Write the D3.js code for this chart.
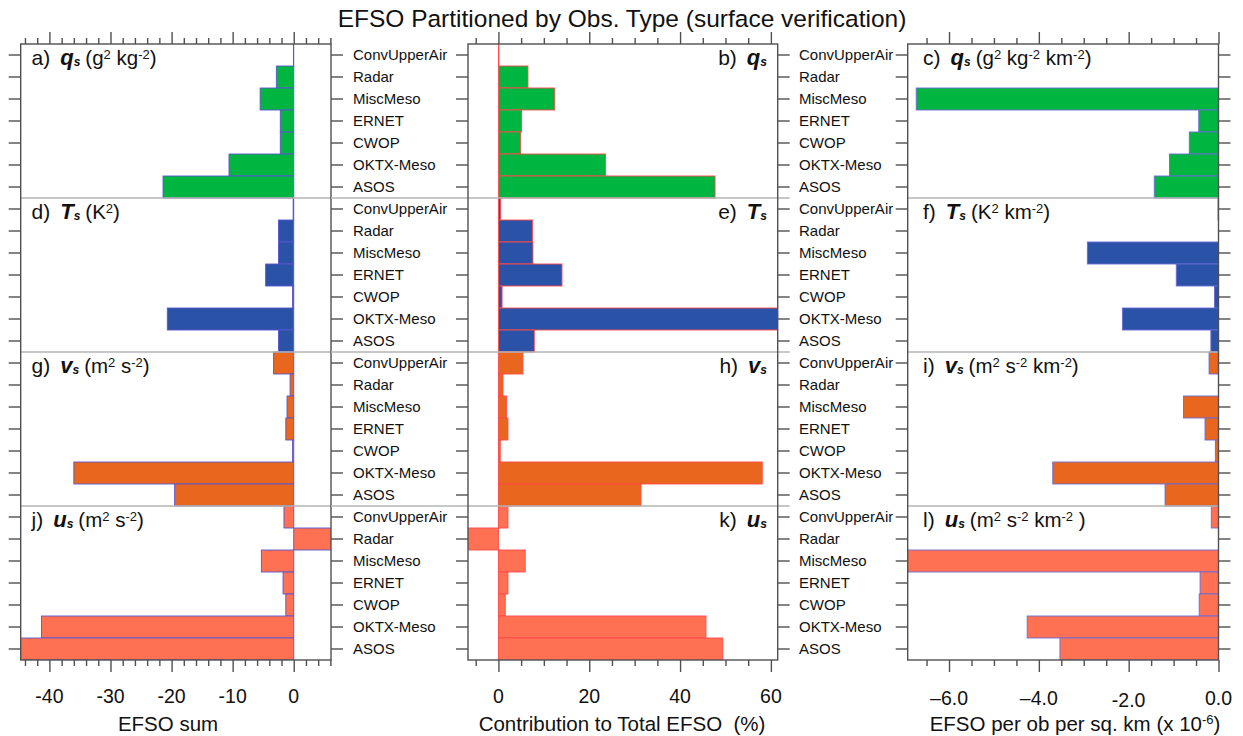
<!DOCTYPE html>
<html>
<head>
<meta charset="utf-8">
<script src="https://cdn.jsdelivr.net/npm/d3@7"></script>
<style>
  html, body { margin: 0; padding: 0; background: #fff; }
  svg { display: block; font-family: "Liberation Sans", Arial, Helvetica, sans-serif; }
  text { white-space: pre; }
</style>
</head>
<body>
<svg id="chart" width="1243" height="736"></svg>
<script>
// Observation types, top to bottom within each variable block
const categories = ["ConvUpperAir", "Radar", "MiscMeso", "ERNET", "CWOP", "OKTX-Meso", "ASOS"];

// EFSO sum by observation type
const sumQ = [-0.05, -2.85, -5.5, -2.2, -2.2, -10.6, -21.4];
const sumT = [-0.1, -2.5, -2.5, -4.6, -0.2, -20.7, -2.5];
const sumV = [-3.3, -0.6, -1.1, -1.3, -0.2, -36.0, -19.5];
const sumU = [-1.6, 6.3, -5.3, -1.75, -1.3, -41.3, -45.5];

// Contribution to total EFSO (%)
const pctQ = [0.1, 6.5, 12.4, 5.1, 4.9, 23.6, 47.7];
const pctT = [0.5, 7.5, 7.6, 14.0, 0.8, 61.7, 7.9];
const pctV = [5.4, 1.0, 1.8, 2.1, 0.4, 58.1, 31.4];
const pctU = [2.1, -6.8, 5.9, 2.1, 1.5, 45.7, 49.4];

// EFSO per observation per sq. km (x 1e-6)
const perObQ = [0, 0, -6.73, -0.44, -0.65, -1.09, -1.43];
const perObT = [-0.01, 0, -2.92, -0.94, -0.09, -2.14, -0.17];
const perObV = [-0.21, 0, -0.78, -0.30, -0.07, -3.69, -1.19];
const perObU = [-0.16, 0, -7.1, -0.41, -0.43, -4.26, -3.53];

// Tick values and labels of the three x axes
const sumTicks = [-40, -30, -20, -10, 0];
const sumTickLabels = ["-40", "-30", "-20", "-10", "0"];
const pctTicks = [0, 20, 40, 60];
const pctTickLabels = ["0", "20", "40", "60"];
const perObTicks = [-6, -4, -2, 0];
const perObTickLabels = ["\u20136.0", "\u20134.0", "-2.0", "0.0"];

// Variable blocks (rows of panels)
const varColors = ["#00b540", "#2a52a6", "#e8661e", "#ff7152"];
const varSymbols = ["q", "T", "v", "u"];
const panelLetters = [["a", "b", "c"], ["d", "e", "f"], ["g", "h", "i"], ["j", "k", "l"]];
// Unit strings: [text, isSuperscript] segments
const unitsSum = [
  [["(g", 0], ["2", 1], [" kg", 0], ["-2", 1], [")", 0]],
  [["(K", 0], ["2", 1], [")", 0]],
  [["(m", 0], ["2", 1], [" s", 0], ["-2", 1], [")", 0]],
  [["(m", 0], ["2", 1], [" s", 0], ["-2", 1], [")", 0]]
];
const unitsPerOb = [
  [["(g", 0], ["2", 1], [" kg", 0], ["-2", 1], [" km", 0], ["-2", 1], [")", 0]],
  [["(K", 0], ["2", 1], [" km", 0], ["-2", 1], [")", 0]],
  [["(m", 0], ["2", 1], [" s", 0], ["-2", 1], [" km", 0], ["-2", 1], [")", 0]],
  [["(m", 0], ["2", 1], [" s", 0], ["-2", 1], [" km", 0], ["-2", 1], [" )", 0]]
];

const svg = d3.select("#chart");

const plotTop = 44, plotBottom = 660;
const blockH = (plotBottom - plotTop) / 4;

const columns = [
  { x0: 20.7, x1: 331, domain: [-44.7, 6.1], ticks: sumTicks, tickLabels: sumTickLabels, minor: 2,
    series: [sumQ, sumT, sumV, sumU], stroke: "#5a56d0", units: unitsSum, labelAnchor: "start", labelX: 31.5,
    title: "EFSO sum", tickLabelY: 703 },
  { x0: 468, x1: 777.7, domain: [-6.7, 61.5], ticks: pctTicks, tickLabels: pctTickLabels, minor: 5,
    series: [pctQ, pctT, pctV, pctU], stroke: "#ff4a4a", units: null, labelAnchor: "end", labelX: 767,
    title: "Contribution to Total EFSO  (%)", tickLabelY: 703 },
  { x0: 907.7, x1: 1218.5, domain: [-6.92, 0], ticks: perObTicks, tickLabels: perObTickLabels, minor: 0.5,
    series: [perObQ, perObT, perObV, perObU], stroke: "#6a6ad8", units: unitsPerOb, labelAnchor: "start", labelX: 923,
    title: null, tickLabelY: 705 }
];

// Title
svg.append("text")
  .attr("x", 622).attr("y", 27)
  .attr("text-anchor", "middle")
  .attr("font-size", 24.5)
  .attr("fill", "#111")
  .text("EFSO Partitioned by Obs. Type (surface verification)");

const axisColor = "#505050";

columns.forEach((col, ci) => {
  const x = d3.scaleLinear().domain(col.domain).range([col.x0, col.x1]);
  const g = svg.append("g");

  const clipId = "clip" + ci;
  svg.append("clipPath").attr("id", clipId)
    .append("rect")
    .attr("x", col.x0).attr("y", plotTop)
    .attr("width", col.x1 - col.x0).attr("height", plotBottom - plotTop);

  const bars = g.append("g").attr("clip-path", `url(#${clipId})`);

  col.series.forEach((vals, vi) => {
    const top = plotTop + vi * blockH;
    const y = d3.scaleBand().domain(categories).range([top, top + blockH]).padding(0);
    const rows = categories.map((c, i) => ({ cat: c, v: vals[i] })).filter(d => d.v !== 0);
    bars.selectAll(null)
      .data(rows)
      .enter().append("rect")
      .attr("x", d => Math.min(x(0), x(d.v)))
      .attr("y", d => y(d.cat))
      .attr("width", d => Math.abs(x(d.v) - x(0)))
      .attr("height", y.bandwidth())
      .attr("fill", varColors[vi])
      .attr("stroke", col.stroke)
      .attr("stroke-width", 0.9);

    // y ticks on both sides of the frame
    categories.forEach(c => {
      const yc = y(c) + y.bandwidth() / 2;
      g.append("line").attr("x1", col.x0 - 12).attr("x2", col.x0).attr("y1", yc).attr("y2", yc)
        .attr("stroke", axisColor).attr("stroke-width", 1.4);
      g.append("line").attr("x1", col.x1).attr("x2", col.x1 + 12).attr("y1", yc).attr("y2", yc)
        .attr("stroke", axisColor).attr("stroke-width", 1.4);
    });

    // Panel label
    const lbl = g.append("text")
      .attr("x", col.labelX).attr("y", top + 21)
      .attr("text-anchor", col.labelAnchor)
      .attr("font-size", 21)
      .attr("fill", "#111");
    lbl.append("tspan").text(panelLetters[vi][ci] + ")");
    lbl.append("tspan").attr("dx", 10).attr("font-weight", "bold").attr("font-style", "italic")
      .attr("font-size", 22).text(varSymbols[vi]);
    lbl.append("tspan").attr("font-weight", "bold").attr("font-style", "italic")
      .attr("font-size", 12).attr("dy", 1).text("s");
    if (col.units) {
      let first = true;
      let shifted = 1;
      col.units[vi].forEach(([t, sup]) => {
        const ts = lbl.append("tspan").attr("font-size", sup ? 13 : 20.5);
        if (first) { ts.attr("dx", 5); first = false; }
        const target = sup ? -6 : 0;
        ts.attr("dy", target - shifted);
        shifted = target;
        ts.text(t);
      });
    }
  });

  // Separators between variable blocks
  for (let k = 1; k < 4; k++) {
    const yy = plotTop + k * blockH;
    const xEnd = ci === 1 ? col.x1 + 12 : col.x1;
    const xStart = ci === 1 ? col.x0 - 137 : col.x0;
    g.append("line").attr("x1", xStart).attr("x2", xEnd).attr("y1", yy).attr("y2", yy)
      .attr("stroke", "#b5b5b5").attr("stroke-width", 1.6);
  }

  // Frame
  g.append("rect")
    .attr("x", col.x0).attr("y", plotTop)
    .attr("width", col.x1 - col.x0).attr("height", plotBottom - plotTop)
    .attr("fill", "none").attr("stroke", axisColor).attr("stroke-width", 1.4);

  // Major and minor x ticks on top and bottom
  const eps = 1e-9;
  const minorVals = d3.range(Math.ceil(col.domain[0] / col.minor) * col.minor, col.domain[1] + eps, col.minor)
    .filter(v => !col.ticks.some(t => Math.abs(t - v) < eps));
  const xAxisBottom = d3.axisBottom(x).tickValues(col.ticks).tickSize(12).tickFormat(() => "");
  const xAxisTop = d3.axisTop(x).tickValues(col.ticks).tickSize(12).tickFormat(() => "");
  const xMinorBottom = d3.axisBottom(x).tickValues(minorVals).tickSize(6).tickFormat(() => "");
  const xMinorTop = d3.axisTop(x).tickValues(minorVals).tickSize(6).tickFormat(() => "");
  [[xAxisBottom, plotBottom], [xMinorBottom, plotBottom], [xAxisTop, plotTop], [xMinorTop, plotTop]].forEach(([ax, yy]) => {
    const a = g.append("g").attr("transform", `translate(0,${yy})`).call(ax);
    a.select(".domain").remove();
    a.selectAll(".tick line").attr("stroke", axisColor).attr("stroke-width", 1.4);
  });

  // Tick labels
  col.ticks.forEach((t, i) => {
    const lab = col.tickLabels[i];
    g.append("text")
      .attr("x", x(t)).attr("y", col.tickLabelY + (lab === "-2.0" ? 2 : 0))
      .attr("text-anchor", "middle")
      .attr("font-size", 19.5)
      .attr("fill", "#111")
      .text(lab);
  });

  // Axis title
  if (col.title) {
    g.append("text").attr("x", ci === 0 ? 168 : 622).attr("y", 731)
      .attr("text-anchor", "middle").attr("font-size", 20.5).attr("fill", "#111")
      .text(col.title);
  } else {
    const t = g.append("text").attr("x", 1075).attr("y", 731)
      .attr("text-anchor", "middle").attr("font-size", 20.5).attr("fill", "#111");
    t.append("tspan").text("EFSO per ob per sq. km (x 10");
    t.append("tspan").attr("font-size", 13).attr("dy", -7).text("-6");
    t.append("tspan").attr("dy", 7).text(")");
  }
});

// Observation-type labels between the panel columns
[353, 799].forEach(lx => {
  for (let vi = 0; vi < 4; vi++) {
    const top = plotTop + vi * blockH;
    const y = d3.scaleBand().domain(categories).range([top, top + blockH]).padding(0);
    svg.selectAll(null)
      .data(categories)
      .enter().append("text")
      .attr("x", lx)
      .attr("y", d => y(d) + y.bandwidth() / 2)
      .attr("dy", "0.36em")
      .attr("font-size", 15)
      .attr("fill", "#111")
      .text(d => d);
  }
});
</script>
</body>
</html>
